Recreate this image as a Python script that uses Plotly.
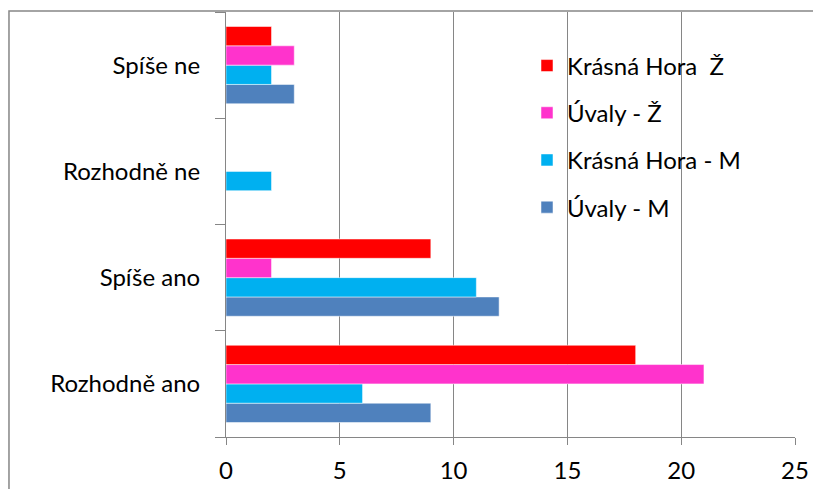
import plotly.graph_objects as go

categories = ["Rozhodně ano", "Spíše ano", "Rozhodně ne", "Spíše ne"]
series_names = ["Úvaly - M", "Krásná Hora - M", "Úvaly - Ž", "Krásná Hora  Ž"]
uvaly_m = [9, 12, 0, 3]
krasna_m = [6, 11, 2, 2]
uvaly_z = [21, 2, 0, 3]
krasna_z = [18, 9, 0, 2]
x_ticks = [0, 5, 10, 15, 20, 25]

colors = ["#4F81BD", "#00B0F0", "#FF33CC", "#FF0000"]
values = [uvaly_m, krasna_m, uvaly_z, krasna_z]
ranks = [4, 3, 2, 1]

FONT = "Lato"
fig = go.Figure()
for name, vals, col, rk in zip(series_names, values, colors, ranks):
    fig.add_trace(go.Bar(
        y=categories, x=vals, name=name, orientation="h",
        marker=dict(color=col, line=dict(color="rgba(255,255,255,0.5)", width=1)),
        legendgroup=name, legendrank=rk,
    ))

# page body has an 8px margin, so the figure is sized 8px smaller
fig.update_layout(
    width=813, height=481,
    margin=dict(l=218, r=26, t=4, b=52, autoexpand=False),
    paper_bgcolor="white", plot_bgcolor="white",
    barmode="group", bargap=0.273, bargroupgap=0,
    font=dict(family=FONT, size=24, color="black"),
    showlegend=True,
    legend=dict(
        x=0.529, y=0.926, xanchor="left", yanchor="top",
        traceorder="grouped", tracegroupgap=13,
        font=dict(family=FONT, size=24, color="black"),
        bgcolor="rgba(0,0,0,0)", itemwidth=30,
    ),
    xaxis=dict(
        range=[0, 25], tickvals=x_ticks, showgrid=True, gridcolor="#868686", gridwidth=1,
        showline=True, linecolor="#868686", linewidth=1, mirror=False,
        ticks="outside", ticklen=7, tickcolor="#868686", zeroline=False,
        ticklabelstandoff=5,
        tickfont=dict(family=FONT, size=24), fixedrange=True, automargin=False,
    ),
    yaxis=dict(
        categoryorder="array", categoryarray=categories,
        showgrid=False, showline=True, linecolor="#868686", linewidth=1,
        ticks="outside", ticklen=10, tickcolor="#868686", tickson="boundaries",
        ticklabelstandoff=20, tickfont=dict(family=FONT, size=24), fixedrange=True,
        automargin=False,
    ),
    shapes=[dict(type="rect", xref="paper", yref="paper",
                 x0=-0.3814, x1=1.2, y0=-0.3, y1=1.0024,
                 line=dict(color="#868686", width=1.5), layer="below")],
)

fig.write_html("out.html")
